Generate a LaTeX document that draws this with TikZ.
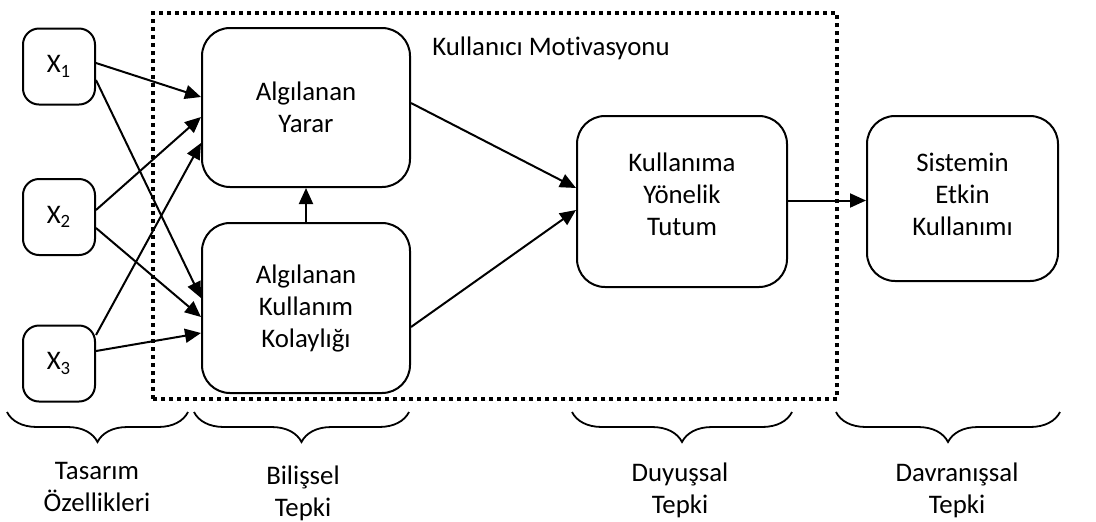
\documentclass[tikz,border=0pt]{standalone}
\usepackage{fontspec}
\setmainfont{Carlito}[Ligatures=NoCommon]
\usetikzlibrary{arrows.meta,decorations.pathreplacing,calc}
\begin{document}
\begin{tikzpicture}[x=0.5pt,y=-0.5pt,
  txt/.style={font=\fontsize{13.4}{16}\selectfont, align=center},
  box/.style={txt, draw, line width=1pt, rounded corners=14pt, inner sep=0pt},
  xbox/.style={txt, draw, line width=1pt, rounded corners=8pt, minimum width=36pt, minimum height=38pt, inner sep=0pt},
  arr/.style={-{Triangle[length=8pt,width=7pt]}, line width=1pt},
  brc/.style={decorate, decoration={brace, amplitude=15pt}, line width=0.9pt},
  frame/.style={draw, line width=2pt, dash pattern=on 2pt off 2pt, minimum width=342pt, minimum height=193pt, inner sep=0pt}
]
\useasboundingbox (0,0) rectangle (1096,521);

% dotted frame
\node[frame] (motiv) at (495,206) {};
\node[txt] (motivlbl) at (551,48) {Kullanıcı Motivasyonu};

% input boxes
\node[xbox] (x1) at (59,66.5) {X\textsubscript{1}};
\node[xbox] (x2) at (59,217) {X\textsubscript{2}};
\node[xbox] (x3) at (59,363.5) {X\textsubscript{3}};

% main boxes
\node[box, minimum width=104pt, minimum height=79.5pt] (yarar) at (306,107.5) {Algılanan\\Yarar};
\node[box, minimum width=104pt, minimum height=85pt] (kolay) at (306,308) {Algılanan\\Kullanım\\Kolaylığı};
\node[box, minimum width=105pt, minimum height=85.5pt] (tutum) at (682,201.5) {Kullanıma\\Yönelik\\Tutum\\[-9pt]};
\node[box, minimum width=95.5pt, minimum height=82.5pt] (sistem) at (962.5,198.5) {Sistemin\\Etkin\\Kullanımı\\[-11.5pt]};

% arrows
\draw[arr] ([yshift=1.75pt]x1.east) -- ([yshift=5.25pt]yarar.west);
\draw[arr] ([yshift=-6.75pt]x1.east) -- ([yshift=5pt]kolay.west);
\draw[arr] ([yshift=3.5pt]x2.east) -- ([yshift=-4.75pt]yarar.west);
\draw[arr] ([yshift=-5.5pt]x2.east) -- ([yshift=-4.5pt]kolay.west);
\draw[arr] ([yshift=14.25pt]x3.east) -- ([yshift=-17.75pt]yarar.west);
\draw[arr] ([yshift=6.25pt]x3.east) -- ([yshift=-12.5pt]kolay.west);
\draw[arr] (kolay.north) -- (kolay.north |- yarar.south);
\draw[arr] ([yshift=2.25pt]yarar.east) -- ([yshift=6.75pt]tutum.west);
\draw[arr] ([yshift=-9.5pt]kolay.east) -- ([yshift=-4.25pt]tutum.west);
\draw[arr] ([yshift=0.5pt]tutum.east) -- ([yshift=0.5pt]tutum.east -| sistem.west);

% braces
\coordinate (b1r) at (188,412); \coordinate (b1l) at (7,412);
\coordinate (b2r) at (409,412); \coordinate (b2l) at (194,412);
\coordinate (b3r) at (792,412); \coordinate (b3l) at (572,412);
\coordinate (b4r) at (1060,412); \coordinate (b4l) at (836,412);
\draw[brc] (b1r) -- (b1l);
\draw[brc] (b2r) -- (b2l);
\draw[brc] (b3r) -- (b3l);
\draw[brc] (b4r) -- (b4l);

\node[txt] (l1) at (97,487) {Tasarım\\Özellikleri};
\node[txt] (l2) at (303,493) {Bilişsel\\Tepki};
\node[txt] (l3) at (680,490) {Duyuşsal\\Tepki};
\node[txt] (l4) at (957,490) {Davranışsal\\Tepki};
\end{tikzpicture}
\end{document}
